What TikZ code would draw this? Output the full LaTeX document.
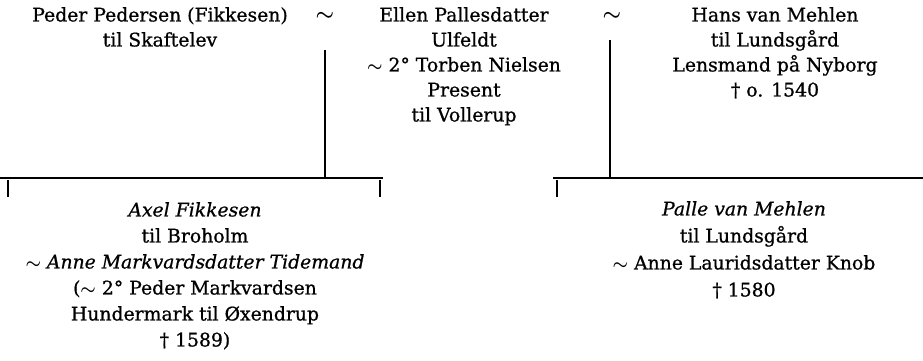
\documentclass[tikz,border=0pt]{standalone}
\usepackage{amsmath}
\usepackage{fontspec}
\setmainfont{DejaVu Serif}[FakeBold=0.8]
\newcommand{\tl}{$\boldsymbol{\sim}$}
\begin{document}
\begin{tikzpicture}[x=1pt,y=-1pt,
  person/.style={align=center,inner sep=0pt,anchor=north,font=\fontsize{18.8}{25}\selectfont},
  marr/.style={inner sep=0pt,font=\fontsize{20}{20}\selectfont},
  line/.style={line width=1.8pt}]
\useasboundingbox (0,0) rectangle (923,360);
\node[person] (peder) at (160,7) {Peder Pedersen (Fikkesen)\\til Skaftelev};
\node[marr] (m1) at (325,16) {\tl};
\node[person] (ellen) at (464,7) {Ellen Pallesdatter\\Ulfeldt\\\tl\ 2° Torben Nielsen\\Present\\til Vollerup};
\node[marr] (m2) at (612,16) {\tl};
\node[person] (hans) at (775,7) {Hans van Mehlen\\til Lundsgård\\Lensmand på Nyborg\\† o. 1540};
\node[person,font=\fontsize{18.8}{26}\selectfont] (axel) at (195,202) {\textit{Axel Fikkesen}\\til Broholm\\\tl\ \textit{Anne Markvardsdatter Tidemand}\\(\tl\ 2° Peder Markvardsen\\Hundermark til Øxendrup\\† 1589)};
\node[person,font=\fontsize{18.8}{27}\selectfont] (palle) at (744,201) {\textit{Palle van Mehlen}\\til Lundsgård\\\tl\ Anne Lauridsdatter Knob\\† 1580};
\coordinate (j1) at (325,178);
\coordinate (j2) at (610,178);
\draw[line] (325,50) -- (j1);
\draw[line] (610,40) -- (j2);
\draw[line] (0,178) -- (383,178);
\draw[line] (553,178) -- (923,178);
\draw[line] (8,180) -- (8,197);
\draw[line] (380,180) -- (380,197);
\draw[line] (557,180) -- (557,197);
\end{tikzpicture}
\end{document}
